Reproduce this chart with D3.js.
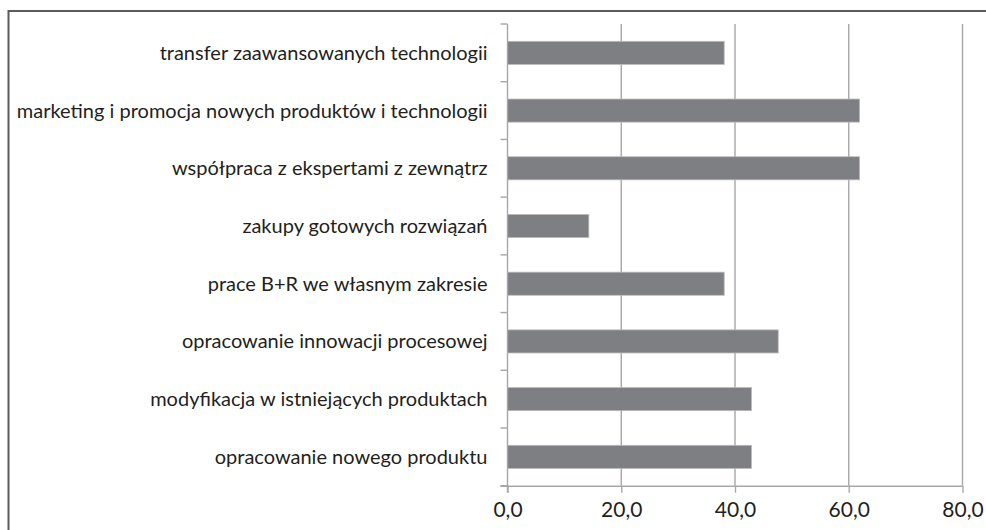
<!DOCTYPE html>
<html>
<head>
<meta charset="utf-8">
<script src="https://cdn.jsdelivr.net/npm/d3@7"></script>
<style>
  html, body { margin: 0; padding: 0; background: #fff; }
  svg { display: block; }
</style>
</head>
<body>
<svg id="chart" width="986" height="530"></svg>
<script>
const categories = [
  "transfer zaawansowanych technologii",
  "marketing i promocja nowych produktów i technologii",
  "współpraca z ekspertami z zewnątrz",
  "zakupy gotowych rozwiązań",
  "prace B+R we własnym zakresie",
  "opracowanie innowacji procesowej",
  "modyfikacja w istniejących produktach",
  "opracowanie nowego produktu"
];
const values = [38.1, 61.9, 61.9, 14.3, 38.1, 47.6, 42.9, 42.9];
const xTicks = [0, 20, 40, 60, 80];
const xTickLabels = ["0,0", "20,0", "40,0", "60,0", "80,0"];

const svg = d3.select("#chart");
const W = 986, H = 530;
const plot = { left: 507.5, right: 962.5, top: 24, bottom: 485.7 };

// outer frame (left and top edges visible)
svg.append("rect")
  .attr("x", 8.5).attr("y", 11)
  .attr("width", W).attr("height", H)
  .attr("fill", "none").attr("stroke", "#5b5b5b").attr("stroke-width", 2);

const x = d3.scaleLinear().domain([0, 80]).range([plot.left, plot.right]);
const y = d3.scaleBand().domain(categories).range([plot.top, plot.bottom])
  .paddingInner(0.6).paddingOuter(0.3);

const gridColor = "#a7a7aa";

// vertical gridlines
svg.append("g").selectAll("line").data(xTicks.filter(d => d > 0)).join("line")
  .attr("x1", d => x(d)).attr("x2", d => x(d))
  .attr("y1", plot.top).attr("y2", plot.bottom)
  .attr("stroke", gridColor).attr("stroke-width", 1.4);

// bars
svg.append("g").selectAll("rect").data(values).join("rect")
  .attr("x", x(0))
  .attr("y", (d, i) => y(categories[i]))
  .attr("width", d => x(d) - x(0))
  .attr("height", y.bandwidth())
  .attr("fill", "#7e7f83")
  .attr("stroke", "#b9b9bb").attr("stroke-width", 0.8);

// x axis
const xAxis = d3.axisBottom(x).tickValues(xTicks)
  .tickFormat((d, i) => xTickLabels[i]).tickSize(7).tickPadding(9).tickSizeOuter(0);
const gx = svg.append("g").attr("transform", `translate(0,${plot.bottom})`).call(xAxis);
gx.select(".domain").attr("stroke", gridColor).attr("stroke-width", 1.4)
  .attr("d", `M${plot.left - 7},0.5H${plot.right}`);
gx.selectAll(".tick line").attr("stroke", gridColor).attr("stroke-width", 1.4);
gx.selectAll(".tick text")
  .attr("fill", "#231f20")
  .style("font-family", "Lato, 'Open Sans', sans-serif")
  .style("font-size", "21px");

// y axis: line plus ticks at band boundaries
const boundaries = d3.range(categories.length + 1).map(i =>
  i < categories.length ? y(categories[i]) - y.step() * y.paddingOuter() * 0 - (y.step() - y.bandwidth()) / 2 : plot.bottom);
svg.append("line")
  .attr("x1", plot.left).attr("x2", plot.left)
  .attr("y1", plot.top).attr("y2", plot.bottom + 7)
  .attr("stroke", gridColor).attr("stroke-width", 1.4);
svg.append("g").selectAll("line").data(boundaries).join("line")
  .attr("x1", plot.left - 7).attr("x2", plot.left)
  .attr("y1", d => d).attr("y2", d => d)
  .attr("stroke", gridColor).attr("stroke-width", 1.4);

// category labels
svg.append("g").selectAll("text").data(categories).join("text")
  .attr("x", plot.left - 20)
  .attr("y", d => y(d) + y.bandwidth() / 2)
  .attr("dy", "0.35em")
  .attr("text-anchor", "end")
  .attr("fill", "#231f20")
  .style("font-family", "Lato, 'Open Sans', sans-serif")
  .style("font-size", "20px")
  .text(d => d);
</script>
</body>
</html>
